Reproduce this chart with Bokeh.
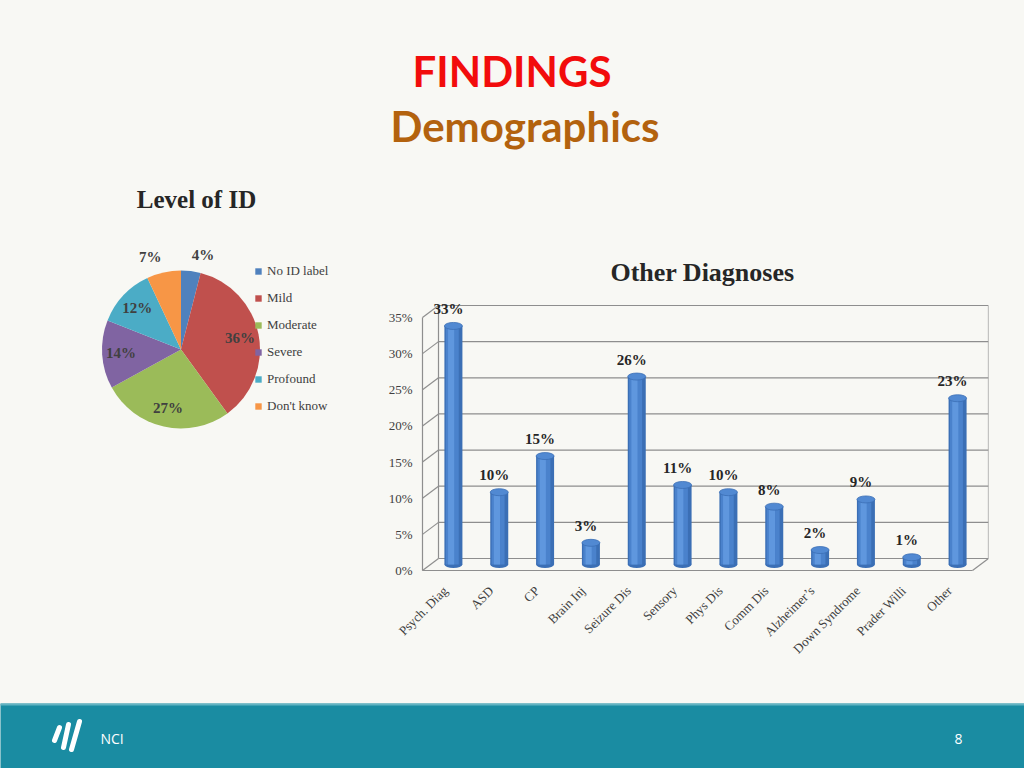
import numpy as np
from math import pi
from bokeh.plotting import figure
from bokeh.layouts import column, row
from bokeh.models import (ColumnDataSource, FactorRange, Range1d, FixedTicker,
                          PrintfTickFormatter, Legend, LegendItem)
from bokeh.transform import dodge
from bokeh.core.properties import value
from bokeh.embed import file_html
from bokeh.resources import INLINE

# ---------------- data ----------------
title_main = "FINDINGS"
title_sub = "Demographics"

pie_title = "Level of ID"
pie_labels = ["No ID label", "Mild", "Moderate", "Severe", "Profound", "Don't know"]
pie_values = [4, 36, 27, 14, 12, 7]
pie_colors = ["#4f81bd", "#c0504d", "#9bbb59", "#8064a2", "#4bacc6", "#f79646"]

bar_title = "Other Diagnoses"
bar_categories = ["Psych. Diag", "ASD", "CP", "Brain Inj", "Seizure Dis", "Sensory",
                  "Phys Dis", "Comm Dis", "Alzheimer\u2019s", "Down Syndrome",
                  "Prader Willi", "Other"]
bar_values = [33, 10, 15, 3, 26, 11, 10, 8, 2, 9, 1, 23]
y_ticks = [0, 5, 10, 15, 20, 25, 30, 35]

footer_left = "NCI"
footer_right = "8"

# ---------------- styles ----------------
BG = "#f8f8f4"
SERIF = "Liberation Serif"
TXT = "#404040"
DARK = "#262626"
PAGE_W = 1024
TOP_H, MID_H, FOOT_H = 180, 523, 65
PIE_W = 380
BAR_W = PAGE_W - PIE_W
MT, MB = 4, 131          # shared top / bottom borders of the middle row
FRAME_H = MID_H - MT - MB


def base_fig(w, h, **kw):
    return figure(width=w, height=h, output_backend="svg", toolbar_location=None,
                  background_fill_color=BG, border_fill_color=BG,
                  outline_line_color=None, **kw)


# ---------------- title strip ----------------
pt = base_fig(PAGE_W, TOP_H, x_range=Range1d(0, PAGE_W), y_range=Range1d(0, TOP_H),
              x_axis_type=None, y_axis_type=None, min_border=0)
pt.text(x=[511.5], y=[110], text=[title_main], text_align="center",
        text_baseline="middle", text_font=value("Lato"),
        text_font_style="bold", text_font_size="42px", text_color="#f20c0c")
pt.text(x=[524.5], y=[55], text=[title_sub], text_align="center",
        text_baseline="middle", text_font=value("Lato"),
        text_font_style="bold", text_font_size="42px", text_color="#b3620e")

# ---------------- pie ----------------
pp = base_fig(PIE_W, MID_H, x_range=Range1d(0, PIE_W), y_range=Range1d(0, FRAME_H),
              x_axis_type=None, y_axis_type=None, min_border_left=0,
              min_border_right=0, min_border_top=MT, min_border_bottom=MB)
CX, CY, R = 180.5, 223.0, 79.0
vals = np.array(pie_values, dtype=float)
frac = vals / vals.sum()
cum_end = np.cumsum(frac)
cum_start = cum_end - frac
mid = (cum_start + cum_end) / 2
theta = pi / 2 - 2 * pi * mid
outside = frac < 0.10
lab_r = np.where(outside, 1.2 * R, 0.76 * R)
lab_x = CX + lab_r * np.cos(theta) + np.where(outside, 10 * np.sign(np.cos(theta)), 0)
lab_y = CY + lab_r * np.sin(theta)
pie_src = ColumnDataSource(dict(
    label=pie_labels, color=pie_colors,
    start=pi / 2 - 2 * pi * cum_start, end=pi / 2 - 2 * pi * cum_end,
    lx=lab_x, ly=lab_y, pct=[f"{v}%" for v in pie_values]))
wr = pp.wedge(x=CX, y=CY, radius=R, start_angle="start", end_angle="end",
              direction="clock", fill_color="color", line_color=None, source=pie_src)
pp.text(x="lx", y="ly", text="pct", source=pie_src, text_align="center",
        text_baseline="middle", text_font=value(SERIF), text_font_style="bold",
        text_font_size="15px", text_color=TXT)
pp.text(x=[196], y=[373], text=[pie_title], text_align="center",
        text_baseline="middle", text_font=value(SERIF), text_font_style="bold",
        text_font_size="25px", text_color=DARK)
legend = Legend(items=[LegendItem(label=lab, renderers=[wr], index=i)
                       for i, lab in enumerate(pie_labels)],
                location=(254, 158), glyph_width=8, glyph_height=8,
                label_height=16, spacing=11, padding=0, margin=0,
                label_standoff=5, label_text_font=SERIF, label_text_font_size="13px",
                label_text_color=TXT, border_line_alpha=0, background_fill_alpha=0)
pp.add_layout(legend)

# ---------------- bar chart ----------------
n = len(bar_categories)
ML, MR = 26, 36
frame_w = BAR_W - ML - MR
DX_PX, DY_PX = 16, 12          # depth of the 3-D box in pixels
unit_px = (frame_w - 2 * DX_PX) / n
d = DX_PX / unit_px            # depth in category units
x_range = FactorRange(factors=bar_categories, range_padding=2 * d / n)
ypx = 253 / 35.0
y_lo = -2 / ypx
y_range = Range1d(y_lo, y_lo + FRAME_H / ypx)
dy = DY_PX / ypx
dmid = dy / 2

pb = base_fig(BAR_W, MID_H, x_range=x_range, y_range=y_range,
              min_border_left=ML, min_border_right=MR, min_border_top=MT,
              min_border_bottom=MB)
pb.xgrid.visible = False
pb.ygrid.visible = False

# chart title (inside the frame, above the box)
pb.text(x=[n / 2], y=[298 / ypx], text=[bar_title], x_offset=5,
        text_align="center", text_baseline="middle", text_font=value(SERIF),
        text_font_style="bold", text_font_size="26px", text_color=DARK)

# 3-D box outline
fl, fr, bl, br = 0, n, d, n + d
top_t = y_ticks[-1]
segs = {"x0": [], "y0": [], "x1": [], "y1": []}


def seg(a, b, c, e):
    segs["x0"].append(a); segs["y0"].append(b)
    segs["x1"].append(c); segs["y1"].append(e)


for t in y_ticks:
    seg(bl, t + dy, br, t + dy)
    seg(fl, t, bl, t + dy)
seg(fl, 0, fl, top_t)
seg(bl, dy, bl, top_t + dy)
seg(br, dy, br, top_t + dy)
seg(fl, 0, fr, 0)
seg(fr, 0, br, dy)
pb.segment(x0="x0", y0="y0", x1="x1", y1="y1", source=ColumnDataSource(segs),
           line_color="#8e8e8e", line_width=1.2)

bar_src = ColumnDataSource(dict(
    cat=bar_categories, top=[v + dmid for v in bar_values], base=[dmid] * n,
    label=[f"{v}%" for v in bar_values]))
BW = 18 / unit_px
C_DARK, C_MID, C_HI, C_TOP = "#3b6fb5", "#4a82cc", "#5f97de", "#5189d2"
xm = d / 2                     # cylinders stand mid-depth in the box
pb.ellipse(x=dodge("cat", xm, range=x_range), y="base", width=18, height=7,
           width_units="screen", height_units="screen", fill_color=C_DARK,
           line_color=None, source=bar_src)
pb.vbar(x=dodge("cat", xm, range=x_range), top="top", bottom="base", width=BW,
        fill_color=C_DARK, line_color=None, source=bar_src)
pb.vbar(x=dodge("cat", xm - 0.025, range=x_range), top="top", bottom="base",
        width=BW * 0.72, fill_color=C_MID, line_color=None, source=bar_src)
pb.vbar(x=dodge("cat", xm - 0.05, range=x_range), top="top", bottom="base",
        width=BW * 0.34, fill_color=C_HI, line_color=None, source=bar_src)
pb.ellipse(x=dodge("cat", xm, range=x_range), y="top", width=18, height=7,
           width_units="screen", height_units="screen", fill_color=C_TOP,
           line_color=C_DARK, line_width=0.8, source=bar_src)
pb.text(x="cat", y="top", text="label", source=bar_src, x_offset=3, y_offset=-9,
        text_align="center", text_baseline="bottom", text_font=value(SERIF),
        text_font_style="bold", text_font_size="15px", text_color=DARK)

pb.yaxis.ticker = FixedTicker(ticks=y_ticks)
pb.yaxis.formatter = PrintfTickFormatter(format="%d%%")
pb.yaxis.axis_line_color = None
pb.yaxis.major_tick_line_color = None
pb.yaxis.minor_tick_line_color = None
pb.yaxis.major_tick_out = 0
pb.yaxis.major_tick_in = 0
pb.yaxis.minor_tick_out = 0
pb.yaxis.major_label_standoff = -6
pb.yaxis.major_label_text_font = SERIF
pb.yaxis.major_label_text_font_size = "13px"
pb.yaxis.major_label_text_color = TXT

pb.xaxis.axis_line_color = None
pb.xaxis.major_tick_line_color = None
pb.xaxis.minor_tick_line_color = None
pb.xaxis.major_tick_out = 0
pb.xaxis.major_tick_in = 0
pb.xaxis.major_label_orientation = pi / 4
pb.xaxis.major_label_standoff = 16
pb.xaxis.major_label_text_font = SERIF
pb.xaxis.major_label_text_font_size = "13px"
pb.xaxis.major_label_text_color = TXT

# ---------------- footer ----------------
FOOT = "#1a8ca2"
pf = figure(width=PAGE_W, height=FOOT_H, output_backend="svg", toolbar_location=None,
            x_range=Range1d(0, PAGE_W), y_range=Range1d(0, FOOT_H), x_axis_type=None,
            y_axis_type=None, min_border=0, background_fill_color=FOOT,
            border_fill_color=FOOT, outline_line_color=None)
pf.quad(left=[0], right=[PAGE_W], bottom=[FOOT_H - 2], top=[FOOT_H],
        fill_color="#62b3c2", line_color=None)
pf.segment(x0=[54, 63, 71], y0=[28, 21, 19], x1=[59, 68, 79], y1=[41, 44, 47],
           line_color="white", line_width=5, line_cap="round")
pf.text(x=[100], y=[30], text=[footer_left], text_align="left",
        text_baseline="middle", text_font=value("Open Sans"),
        text_font_size="14px", text_color="white")
pf.text(x=[958], y=[30], text=[footer_right], text_align="center",
        text_baseline="middle", text_font=value("Open Sans"),
        text_font_size="14px", text_color="white")

layout = column(pt, row(pp, pb, styles={"background-color": BG}), pf,
                styles={"background-color": BG})
open("out.html", "w").write(file_html(layout, INLINE))
